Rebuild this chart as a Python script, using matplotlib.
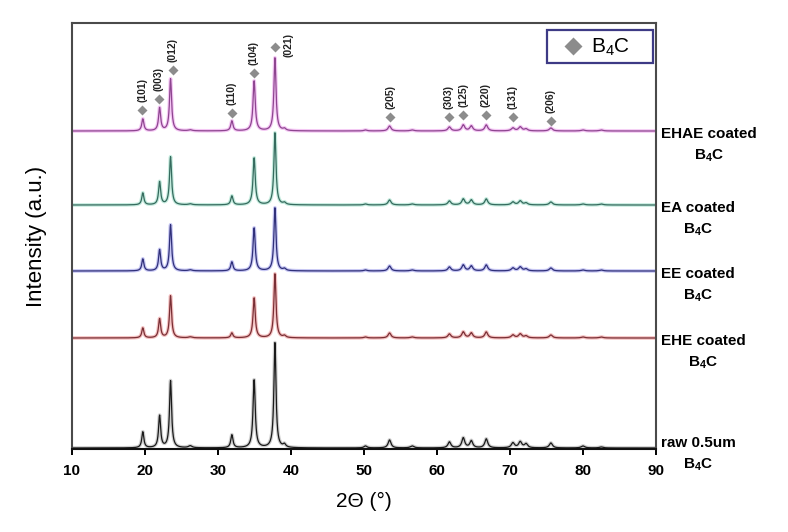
import numpy as np
import matplotlib
matplotlib.use("Agg")
import matplotlib.pyplot as plt
from matplotlib.patches import Rectangle

plt.rcParams['font.family'] = ['Liberation Sans', 'DejaVu Sans']
plt.rcParams['mathtext.fontset'] = 'custom'
plt.rcParams['mathtext.rm'] = 'Liberation Sans'
plt.rcParams['mathtext.bf'] = 'Liberation Sans:bold'

# peak positions (2theta) shared by all samples
peak_pos = [19.7, 22.0, 23.5, 26.2, 31.9, 34.95, 37.8, 39.1, 50.2, 53.5, 56.6,
            61.7, 63.6, 64.7, 66.75, 70.4, 71.4, 72.2, 75.6, 80.0, 82.5]
peak_hw = [0.17, 0.17, 0.17, 0.3, 0.18, 0.18, 0.17, 0.22, 0.25, 0.24, 0.3,
           0.24, 0.24, 0.24, 0.24, 0.26, 0.26, 0.26, 0.26, 0.3, 0.3]

samples = ['raw 0.5um', 'EHE coated', 'EE coated', 'EA coated', 'EHAE coated']
offsets = [1, 111, 178, 244, 318]
heights = [
    [16, 32, 67, 2, 13, 68, 105, 3, 2, 8, 2, 6, 10, 7, 9, 5, 6, 4, 5, 2, 1],
    [10, 19, 42, 1, 5, 40, 64, 2, 1, 5, 1, 4, 6, 5, 6, 3, 4, 2, 3, 1, 1],
    [12, 21, 46, 1, 9, 43, 63, 2, 1, 5, 1, 4, 6, 5, 6, 3, 4, 2, 3, 1, 1],
    [12, 23, 48, 1, 9, 47, 72, 2, 1, 5, 1, 4, 6, 5, 6, 3, 4, 2, 3, 1, 1],
    [12, 23, 52, 1, 10, 50, 73, 2, 1, 5, 1, 4, 6, 5, 6, 3, 4, 2, 3, 1, 1],
]
line_colors = ['#1a1a1a', '#7a2f35', '#30307a', '#356b5e', '#8e4590']
halo_colors = ['#a8a8a8', '#ec9090', '#9a9aea', '#96dcc4', '#eb9aeb']

# B4C reflections
hkl = ['(101)', '(003)', '(012)', '(110)', '(104)', '(021)',
       '(205)', '(303)', '(125)', '(220)', '(131)', '(206)']
hkl_x = [19.6, 21.9, 23.8, 31.9, 34.9, 37.8, 53.6, 61.6, 63.6, 66.7, 70.4, 75.6]
hkl_y = [339, 350, 379, 336, 376, 402, 332, 332, 334, 334, 332, 328]

tth = np.arange(10, 90.001, 0.02)

fig = plt.figure(figsize=(7.88, 5.32), dpi=100)
ax = fig.add_axes([72/788, 83/532, 584/788, 426/532])

for name, off, h, lc, hc in zip(samples, offsets, heights, line_colors, halo_colors):
    y = np.full_like(tth, float(off))
    for p, w, a in zip(peak_pos, peak_hw, h):
        y += a * w**2 / ((tth - p)**2 + w**2)
    ax.plot(tth, y, color=hc, lw=2.6, alpha=0.55, solid_capstyle='butt')
    ax.plot(tth, y, color=lc, lw=0.9)
    # sample name, with B4C centred on a second line
    dy = 5 if name.startswith('raw') else -3
    t = ax.annotate(name, xy=(1, off), xycoords=('axes fraction', 'data'),
                    xytext=(5, dy), textcoords='offset pixels', ha='left',
                    va='center', fontsize=11, fontweight='bold',
                    annotation_clip=False)
    ax.annotate(r'B$_{\mathbf{4}}$C', xy=(0.5, 0), xycoords=t,
                xytext=(0, -6), textcoords='offset pixels', ha='center',
                va='top', fontsize=11, fontweight='bold', annotation_clip=False)

ax.plot(hkl_x, hkl_y, ls='none', marker='D', color='#8c8c8c', ms=5.5, mec='none')
for lab, x, y in zip(hkl, hkl_x, hkl_y):
    if lab == '(021)':
        ax.annotate(lab, (x, y), xytext=(14, 2), textcoords='offset pixels',
                    rotation=90, ha='center', va='center', fontsize=7.5,
                    fontweight='bold', color='#222222')
    else:
        ax.annotate(lab, (x, y), xytext=(0, 8), textcoords='offset pixels',
                    rotation=90, ha='center', va='bottom', fontsize=7.5,
                    fontweight='bold', color='#222222')

# legend box drawn by hand
ax.add_patch(Rectangle((475/584, 386/426), 106/584, 33/426, transform=ax.transAxes,
                       facecolor='white', edgecolor='#3d3a85', lw=1.6, zorder=5))
ax.plot([501/584], [403/426], transform=ax.transAxes, ls='none', marker='D',
        color='#8c8c8c', ms=9, mec='none', zorder=6)
ax.text(519/584, 402/426, 'B$_4$C', transform=ax.transAxes, fontsize=15,
        ha='left', va='center', zorder=6)

ax.set_xlim(10, 90)
ax.set_ylim(0, 426)
ax.set_xticks(range(10, 91, 10))
ax.set_yticks([])
ax.tick_params(axis='x', direction='out', length=4, width=1.4, labelsize=11, pad=7)
for tl in ax.get_xticklabels():
    tl.set_fontweight('bold')
for s in ax.spines.values():
    s.set_color('#4a4a4a')
    s.set_linewidth(1.5)
ax.spines['bottom'].set_color('#111111')

ax.set_xlabel('2Θ (°)', fontsize=15, labelpad=10)
ax.set_ylabel('Intensity (a.u.)', fontsize=16, labelpad=18)

fig.savefig('out.png', dpi=100)
